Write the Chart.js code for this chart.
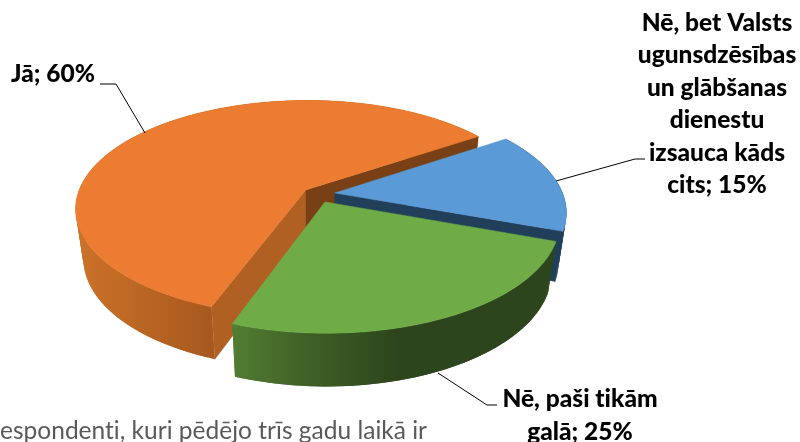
<!DOCTYPE html>
<html>
<head>
<meta charset="utf-8">
<style>
  html, body { margin: 0; background: #fff; overflow: hidden; }
  canvas { display: block; }
</style>
<script src="https://cdn.jsdelivr.net/npm/chart.js@4/dist/chart.umd.min.js"></script>
</head>
<body>
<canvas id="grafica" width="800" height="442"></canvas>
<script>
// dati
const kategorijas = ['Jā', 'Nē, bet Valsts ugunsdzēsības un glābšanas dienestu izsauca kāds cits', 'Nē, paši tikām galā'];
const vertibas = [60, 15, 25];
const rindas = [
    ['Jā'],
    ['Nē, bet Valsts', 'ugunsdzēsības', 'un glābšanas', 'dienestu', 'izsauca kāds', 'cits'],
    ['Nē, paši tikām', 'galā']
];
const apaksteksts = 'espondenti, kuri pēdējo trīs gadu laikā ir';

const krasas = ['#EB7C31', '#5A9AD6', '#6FAC47'];
const izvirzijums = [48, 60, 62];

// sienu toņi
const sienas = [
    { stops: ['#cc7229', '#a7591e'], x0: 75, x1: 213, radial: ['#b06022', '#7a4015'] },
    { stops: ['#1f3f5c', '#1f3f5c'], x0: 500, x1: 570, radial: ['#223f5a', '#223f5a'] },
    { stops: ['#527d32', '#3d5e25', '#2d451c', '#2d451c'], x0: 232, x1: 480, radial: ['#2d451c', '#2d451c'] }
];

// uzrakstu izkārtojums
const uzraksti = [
    { x: 53, y: 74, lineH: 32.5, lider: [[145, 133], [116, 84], [100, 84]] },
    { x: 717, y: 23, lineH: 32.5, lider: [[556, 181], [635, 159], [645, 159]] },
    { x: 580, y: 399, lineH: 33, lider: [[438, 373], [487, 405], [497, 405]] }
];

// 3D projekcija
const cx = 317, cy = 194, rx = 228, ry = 106, persp = 0.17, dzilums = 49;

function projicet(X, Y, z) {
    const w = 1 - persp * Y;
    return [
        cx + rx * (X / w) * (1 - 0.032 * z),
        cy + ry * (Y / w) * (1 + 0.03 * z) + dzilums * z
    ];
}

function zimetCelu(ctx, punkti, krasa, arLiniju) {
    ctx.beginPath();
    punkti.forEach((p, i) => i ? ctx.lineTo(p[0], p[1]) : ctx.moveTo(p[0], p[1]));
    ctx.closePath();
    ctx.fillStyle = krasa;
    ctx.fill();
    if (arLiniju) {
        ctx.strokeStyle = krasa;
        ctx.lineWidth = 0.5;
        ctx.stroke();
    }
}

function zimetSektoru(ctx, el, siena) {
    const vidus = (el.startAngle + el.endAngle) / 2;
    const nobide = el.options.offset / 4 / el.outerRadius;
    const ex = Math.cos(vidus) * nobide;
    const ey = Math.sin(vidus) * nobide;
    const soli = 120;

    const loks = (z) => {
        const p = [];
        for (let i = 0; i <= soli; i++) {
            const a = el.startAngle + (el.endAngle - el.startAngle) * i / soli;
            p.push(projicet(ex + Math.cos(a), ey + Math.sin(a), z));
        }
        return p;
    };

    const augsa = loks(0);
    const apaksa = loks(1);
    const centrs0 = projicet(ex, ey, 0);
    const centrs1 = projicet(ex, ey, 1);

    // ārējā siena pa gabaliem, kas pārklājas, lai nav šuvju
    const grad = ctx.createLinearGradient(siena.x0, 0, siena.x1, 0);
    siena.stops.forEach((s, i) => grad.addColorStop(i / (siena.stops.length - 1), s));
    for (let i = 0; i < soli; i++) {
        const b = Math.min(i + 2, soli);
        zimetCelu(ctx, [augsa[i], augsa[b], apaksa[b], apaksa[i]], grad, false);
    }

    // radiālās sienas, tikai tās, kas vērstas pret skatītāju
    if (Math.cos(el.startAngle) < 0) {
        zimetCelu(ctx, [centrs0, augsa[0], apaksa[0], centrs1], siena.radial[0], true);
    }
    if (Math.cos(el.endAngle) > 0) {
        zimetCelu(ctx, [centrs0, augsa[soli], apaksa[soli], centrs1], siena.radial[1], true);
    }

    // virsma
    zimetCelu(ctx, [centrs0].concat(augsa), el.options.backgroundColor, true);
}

const pie3d = {
    id: 'pie3d',
    beforeDatasetsDraw(chart) {
        const ctx = chart.ctx;
        chart.getDatasetMeta(0).data.forEach((el, i) => zimetSektoru(ctx, el, sienas[i]));
        return false;
    },
    afterDraw(chart) {
        const ctx = chart.ctx;
        ctx.save();

        uzraksti.forEach((u) => {
            ctx.beginPath();
            u.lider.forEach((p, i) => i ? ctx.lineTo(p[0], p[1]) : ctx.moveTo(p[0], p[1]));
            ctx.strokeStyle = '#000';
            ctx.lineWidth = 1;
            ctx.stroke();
        });

        ctx.letterSpacing = '0.01px';
        ctx.font = '900 24.5px Lato';
        ctx.fillStyle = '#000';
        ctx.textAlign = 'center';
        ctx.textBaseline = 'middle';
        rindas.forEach((r, i) => {
            r.forEach((t, j) => {
                const teksts = j === r.length - 1 ? t + '; ' + vertibas[i] + '%' : t;
                ctx.fillText(teksts, uzraksti[i].x, uzraksti[i].y + j * uzraksti[i].lineH);
            });
        });

        ctx.font = '24.5px Lato';
        ctx.fillStyle = '#595959';
        ctx.textAlign = 'left';
        ctx.fillText(apaksteksts, 0, 431);
        ctx.restore();
    }
};

new Chart(document.getElementById('grafica').getContext('2d'), {
    type: 'pie',
    data: {
        labels: kategorijas,
        datasets: [{
            data: vertibas,
            backgroundColor: krasas,
            offset: izvirzijums,
            borderWidth: 0
        }]
    },
    options: {
        responsive: false,
        animation: false,
        rotation: 200,
        plugins: { legend: { display: false }, tooltip: { enabled: false } }
    },
    plugins: [pie3d]
});
</script>
</body>
</html>
